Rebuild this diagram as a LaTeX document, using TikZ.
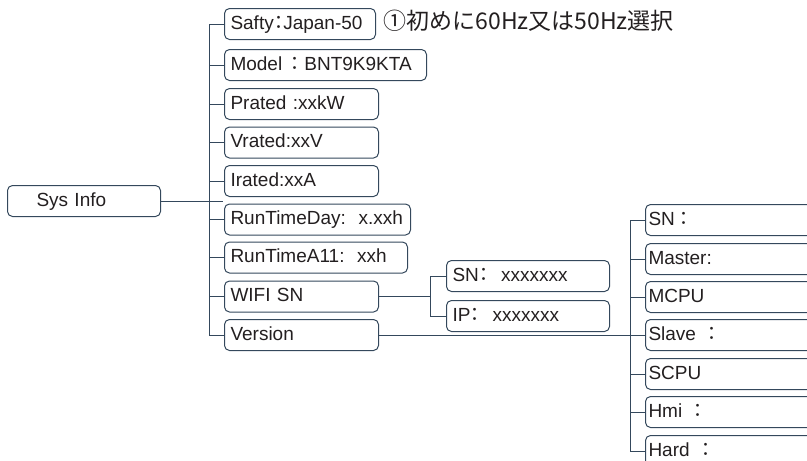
\documentclass[tikz,border=0pt]{standalone}
\usepackage{fontspec}
\setmainfont{Liberation Sans}
\newfontfamily\cjk{Noto Sans CJK JP}
\definecolor{branch}{RGB}{52,72,92}
\definecolor{ink}{RGB}{35,31,32}
% full width colon, and a squeezed one
\newcommand{\fwc}{{\cjk ：}}
\newcommand{\nwc}{\makebox[0.5em]{\cjk ：}}
\tikzset{
  item/.style={draw=branch, rounded corners=5pt, anchor=west,
    minimum height=31pt, inner xsep=6pt, inner ysep=0pt, align=left,
    text=ink, font=\fontsize{19}{20}\selectfont,
    text height=14pt, text depth=4pt},
  part/.style={item, inner xsep=3pt, text width=180pt},
  elbow/.style={to path={|- (\tikztotarget)}},
}
\begin{document}
\begin{tikzpicture}[x=1pt, y=-1pt, line width=1pt]
\useasboundingbox (0,0) rectangle (807,461);

\node[item, inner xsep=29pt, text width=95pt] (sys) at (7, 201) {Sys~Info};

% first level
\node[item, text width=139pt] (safty)  at (224, 24)    {Safty\nwc Japan-50};
\node[item, text width=190pt] (model)  at (224, 65)    {Model\,\fwc BNT9K9KTA};
\node[item, text width=142pt] (prated) at (224, 104)   {Prated~:xxkW};
\node[item, text width=142pt] (vrated) at (224, 142.5) {Vrated:xxV};
\node[item, text width=142pt] (irated) at (224, 181)   {Irated:xxA};
\node[item, text width=174pt] (rday)   at (224, 219.5) {RunTimeDay:~~x.xxh};
\node[item, text width=171pt] (rall)   at (224, 257.5) {RunTimeA11:~~xxh};
\node[item, text width=142pt] (wifi)   at (224, 296.5) {WIFI~SN};
\node[item, text width=142pt] (ver)    at (224, 335)   {Version};

\node[anchor=west, inner sep=0pt, text=ink, font=\cjk\fontsize{23}{23}\selectfont]
  (note) at (383, 21) {①初めに60Hz又は50Hz選択};

% wifi
\node[item, text width=151pt] (wsn) at (446, 276) {SN\nwc~~xxxxxxx};
\node[item, text width=151pt] (wip) at (446, 316) {IP\nwc~~xxxxxxx};

% version
\node[part] (vsn)    at (645, 220) {SN\fwc};
\node[part] (master) at (645, 259) {Master:};
\node[part] (mcpu)   at (645, 297) {MCPU};
\node[part] (slave)  at (645, 335) {Slave~\fwc};
\node[part] (scpu)   at (645, 374) {SCPU};
\node[part] (hmi)    at (645, 412) {Hmi~\fwc};
\node[part] (hard)   at (645, 451) {Hard~\fwc};

\coordinate (j)  at (223, 201);
\coordinate (t1) at (209, 201);
\coordinate (w1) at (430, 296.5);
\coordinate (v1) at (630, 335);

\path[draw=branch]
(sys) edge (j)
(t1) edge[elbow] (safty)
(t1) edge[elbow] (model)
(t1) edge[elbow] (prated)
(t1) edge[elbow] (vrated)
(t1) edge[elbow] (irated)
(t1) edge[elbow] (rday)
(t1) edge[elbow] (rall)
(t1) edge[elbow] (wifi)
(t1) edge[elbow] (ver)
(wifi) edge (w1)
(w1) edge[elbow] (wsn)
(w1) edge[elbow] (wip)
(ver) edge (v1)
(v1) edge[elbow] (vsn)
(v1) edge[elbow] (master)
(v1) edge[elbow] (mcpu)
(v1) edge[elbow] (slave)
(v1) edge[elbow] (scpu)
(v1) edge[elbow] (hmi)
(v1) edge[elbow] (hard)
;
\end{tikzpicture}
\end{document}
